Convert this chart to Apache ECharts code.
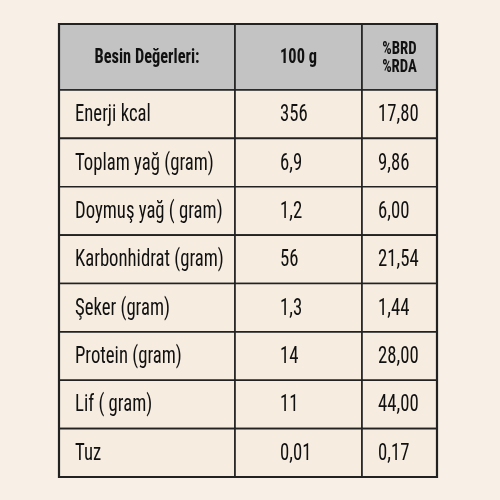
<!DOCTYPE html>
<html><head><meta charset="utf-8">
<script src="https://cdn.jsdelivr.net/npm/echarts@6/dist/echarts.min.js"></script>
<style>html,body{margin:0;padding:0;background:#f8f0e6}#c{width:500px;height:500px}</style>
</head><body><div id="c"></div>
<script>
const headers = ['Besin Değerleri:', '100 g', '%BRD\n%RDA'];
const nutrients = ['Enerji kcal','Toplam yağ (gram)','Doymuş yağ ( gram)','Karbonhidrat (gram)','Şeker (gram)','Protein (gram)','Lif ( gram)','Tuz'];
const per100g = ['356','6,9','1,2','56','1,3','14','11','0,01'];
const rda = ['17,80','9,86','6,00','21,54','1,44','28,00','44,00','0,17'];

const colEdges = [0, 176, 303, 378];
const headerH = 1.364;
const textOffset = [16, 45, 16];
const data = [];
headers.forEach((h, c) => data.push([c, -1, h]));
nutrients.forEach((n, r) => {
  data.push([0, r, n]); data.push([1, r, per100g[r]]); data.push([2, r, rda[r]]);
});
const total = headerH + nutrients.length;
const font = '"Liberation Sans Narrow","Roboto Condensed","DejaVu Sans Condensed",sans-serif';

const chart = echarts.init(document.getElementById('c'));
chart.setOption({
  animation: false,
  grid: {left: 59, right: 63, top: 24, bottom: 23},
  xAxis: {type: 'value', min: 0, max: 378, show: false},
  yAxis: {type: 'value', min: 0, max: total, inverse: true, show: false},
  series: [{
    type: 'custom',
    data: data,
    renderItem: function (params, api) {
      const c = api.value(0), r = api.value(1);
      const text = data[params.dataIndex][2];
      const y0 = r < 0 ? 0 : headerH + r, y1 = r < 0 ? headerH : headerH + r + 1;
      const p0 = api.coord([colEdges[c], y0]), p1 = api.coord([colEdges[c + 1], y1]);
      const isH = r < 0;
      return {type: 'group', children: [{
        type: 'rect',
        shape: {x: p0[0], y: p0[1], width: p1[0] - p0[0], height: p1[1] - p0[1]},
        style: {fill: isH ? '#c3c3c3' : '#f6ece0', stroke: '#222', lineWidth: 1.6}
      }, {
        type: 'text',
        x: isH ? (p0[0] + p1[0]) / 2 : p0[0] + textOffset[c],
        y: (p0[1] + p1[1]) / 2 + 1,
        scaleX: 0.78,
        style: {
          text: text, x: 0, y: 0,
          align: isH ? 'center' : 'left', verticalAlign: 'middle',
          fill: '#111',
          font: (isH ? 'bold ' + (c === 2 ? '19px ' : '21px ') : '24px ') + font,
          lineHeight: 18
        }
      }]};
    }
  }, {
    type: 'custom',
    data: [[0]],
    z: 5,
    renderItem: function (params, api) {
      const p0 = api.coord([0, 0]), p1 = api.coord([378, total]);
      return {type: 'rect', shape: {x: p0[0], y: p0[1], width: p1[0] - p0[0], height: p1[1] - p0[1]},
        style: {fill: 'none', stroke: '#222', lineWidth: 2.2}};
    }
  }]
});
</script></body></html>
